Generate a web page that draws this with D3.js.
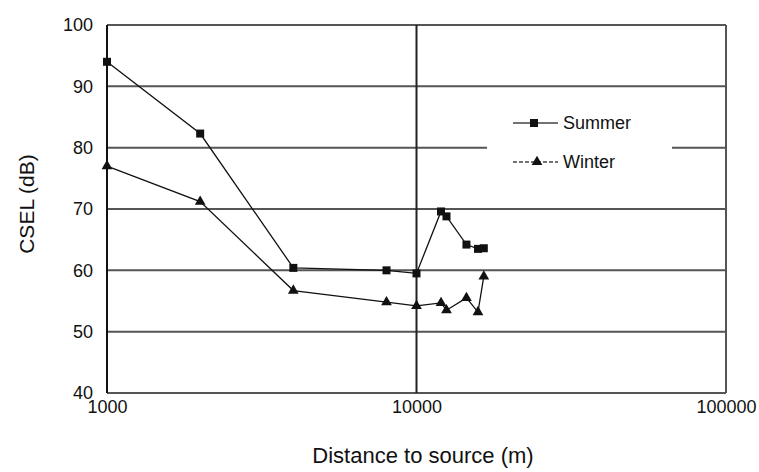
<!DOCTYPE html>
<html>
<head>
<meta charset="utf-8">
<script src="https://cdn.jsdelivr.net/npm/d3@7"></script>
<style>
  html, body { margin: 0; padding: 0; background: #fff; }
  svg { display: block; font-family: "Liberation Sans", Arial, sans-serif; }
</style>
</head>
<body>
<svg id="chart" width="759" height="472"></svg>
<script>
// ---- data ----
const summerDistance = [1000, 2000, 4000, 8000, 10000, 12000, 12500, 14500, 15800, 16500];
const summerCSEL     = [94.0, 82.3, 60.4, 60.0, 59.5, 69.6, 68.8, 64.2, 63.5, 63.6];
const winterDistance = [1000, 2000, 4000, 8000, 10000, 12000, 12500, 14500, 15800, 16500];
const winterCSEL     = [77.0, 71.2, 56.7, 54.8, 54.2, 54.7, 53.5, 55.5, 53.2, 59.0];
const yTicks = [40, 50, 60, 70, 80, 90, 100];
const xTicks = [1000, 10000, 100000];
const seriesNames = ["Summer", "Winter"];
const xTitle = "Distance to source (m)";
const yTitle = "CSEL (dB)";

// ---- layout ----
const svg = d3.select("#chart");
const pLeft = 107, pRight = 726, pTop = 25, pBottom = 393;
const x = d3.scaleLog().domain([1000, 100000]).range([pLeft, pRight]);
const y = d3.scaleLinear().domain([40, 100]).range([pBottom, pTop]);
const gridColor = "#555";

// y axis labels
const gAxisY = svg.append("g").attr("transform", `translate(${pLeft},0)`)
  .call(d3.axisLeft(y).tickValues(yTicks).tickSize(0).tickPadding(14).tickFormat(d3.format("d")));
gAxisY.select(".domain").remove();
gAxisY.selectAll("text").attr("font-size", 18).attr("fill", "#111")
  .attr("font-family", "Liberation Sans, Arial, sans-serif");

// horizontal gridlines
svg.append("g").selectAll("line").data(yTicks).join("line")
  .attr("x1", pLeft).attr("x2", pRight)
  .attr("y1", d => y(d)).attr("y2", d => y(d))
  .attr("stroke", gridColor).attr("stroke-width", 2);

// vertical gridlines at decades
svg.append("g").selectAll("line").data(xTicks).join("line")
  .attr("x1", d => x(d)).attr("x2", d => x(d))
  .attr("y1", pTop).attr("y2", pBottom)
  .attr("stroke", (d, i) => i === 0 ? "#111" : (i === 1 ? "#222" : gridColor))
  .attr("stroke-width", 2);

// x axis labels
const gAxisX = svg.append("g").attr("transform", `translate(0,${pBottom})`)
  .call(d3.axisBottom(x).tickValues(xTicks).tickSize(0).tickPadding(7).tickFormat(d3.format("d")));
gAxisX.select(".domain").remove();
gAxisX.selectAll("text").attr("font-size", 18).attr("fill", "#111")
  .attr("font-family", "Liberation Sans, Arial, sans-serif");

// legend background (covers gridline)
svg.append("rect").attr("x", 487).attr("y", 100).attr("width", 185).attr("height", 90).attr("fill", "#fff");

// lines
const line = d3.line().x(d => x(d[0])).y(d => y(d[1]));
const summer = summerDistance.map((d, i) => [d, summerCSEL[i]]);
const winter = winterDistance.map((d, i) => [d, winterCSEL[i]]);

svg.append("path").datum(summer).attr("d", line)
  .attr("fill", "none").attr("stroke", "#111").attr("stroke-width", 1.3);
svg.append("path").datum(winter).attr("d", line)
  .attr("fill", "none").attr("stroke", "#111").attr("stroke-width", 1.3);

const sq = d3.symbol().type(d3.symbolSquare).size(64);
const tri = d3.symbol().type(d3.symbolTriangle).size(50);

svg.append("g").selectAll("path").data(summer).join("path")
  .attr("d", sq).attr("transform", d => `translate(${x(d[0])},${y(d[1])})`).attr("fill", "#111");
svg.append("g").selectAll("path").data(winter).join("path")
  .attr("d", tri).attr("transform", d => `translate(${x(d[0])},${y(d[1])})`).attr("fill", "#111");

// legend
const leg = svg.append("g");
const legY = [123, 162];
seriesNames.forEach((name, i) => {
  leg.append("line").attr("x1", 513).attr("x2", 558).attr("y1", legY[i]).attr("y2", legY[i])
    .attr("stroke", "#444").attr("stroke-width", 1.3).attr("stroke-dasharray", i === 0 ? null : "4,2");
  leg.append("path").attr("d", i === 0 ? sq : tri)
    .attr("transform", `translate(${i === 0 ? 534 : 537},${legY[i]})`).attr("fill", "#111");
  leg.append("text").attr("x", 563).attr("y", legY[i]).attr("dy", "0.35em")
    .attr("font-size", 18).attr("fill", "#111").text(name);
});

// titles
svg.append("text").attr("x", 423).attr("y", 463).attr("text-anchor", "middle")
  .attr("font-size", 22).attr("fill", "#111").text(xTitle);
svg.append("text").attr("transform", "translate(34,204) rotate(-90)").attr("text-anchor", "middle")
  .attr("font-size", 21).attr("fill", "#111").text(yTitle);
</script>
</body>
</html>
